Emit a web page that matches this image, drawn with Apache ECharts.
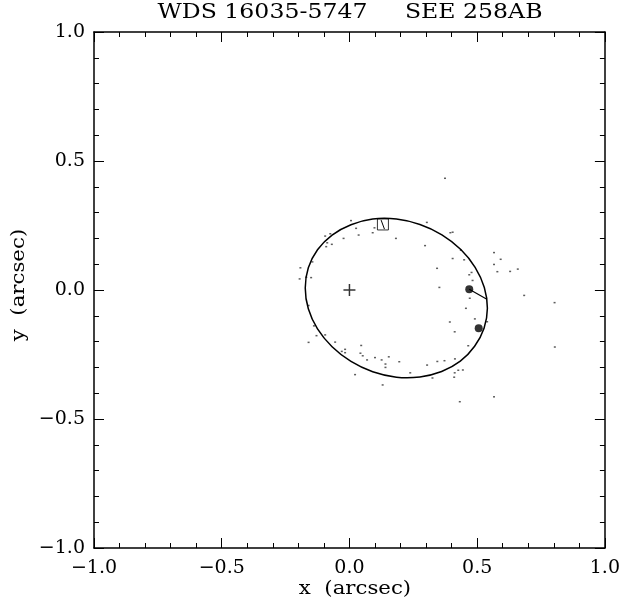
<!DOCTYPE html>
<html>
<head>
<meta charset="utf-8">
<script src="https://cdn.jsdelivr.net/npm/echarts@6/dist/echarts.min.js"></script>
<style>
html,body{margin:0;padding:0;background:#fff;}
#chart{width:623px;height:605px;}
</style>
</head>
<body>
<div id="chart"></div>
<script>
// ---- data ----
const titleText = 'WDS 16035-5747     SEE 258AB';
const xAxisName = 'x  (arcsec)';
const yAxisName = 'y  (arcsec)';
const axisTicks = [-1.0, -0.5, 0.0, 0.5, 1.0];

// individual observations (x, y) in arcsec
const obsX = [0.006,0.026,0.098,0.091,0.036,-0.095,-0.075,-0.023,-0.087,-0.069,-0.091,-0.192,-0.145,-0.195,-0.169,-0.150,
  0.182,0.296,0.303,0.343,0.374,0.395,0.404,0.436,0.404,0.449,0.566,0.592,0.566,0.579,0.629,0.659,0.478,0.469,0.482,0.352,
  0.471,0.684,0.803,0.804,0.566,0.456,0.491,0.539,0.393,0.412,0.465,0.413,0.372,0.344,0.304,0.426,0.444,0.412,0.410,0.325,
  0.432,0.195,0.238,-0.160,-0.160,-0.139,-0.129,-0.095,-0.056,-0.030,-0.017,-0.017,0.046,0.043,0.052,0.069,0.100,0.126,
  0.141,0.141,0.154,0.022,0.130];
const obsY = [0.269,0.239,0.241,0.222,0.213,0.209,0.218,0.200,0.183,0.177,0.168,0.086,0.109,0.043,0.049,0.048,
  0.200,0.172,0.262,0.084,0.433,0.222,0.224,0.154,0.122,0.117,0.145,0.119,0.099,0.071,0.072,0.081,0.068,0.059,0.037,0.010,
  -0.032,-0.021,-0.049,-0.221,-0.414,-0.071,-0.112,-0.123,-0.124,-0.162,-0.216,-0.267,-0.274,-0.277,-0.291,-0.311,-0.310,-0.321,-0.338,-0.341,
  -0.433,-0.278,-0.321,-0.203,-0.060,-0.139,-0.177,-0.174,-0.202,-0.238,-0.230,-0.243,-0.215,-0.245,-0.255,-0.271,-0.262,-0.271,
  -0.287,-0.300,-0.259,-0.328,-0.368];

// apparent orbit, points (closed curve, clockwise)
const orbitX = [0.540,0.527,0.490,0.434,0.361,0.276,0.184,0.091,0.006,-0.068,-0.125,-0.161,-0.173,-0.161,-0.125,-0.068,
  0.006,0.091,0.184,0.276,0.362,0.436,0.492,0.528];
const orbitY = [-0.071,-0.148,-0.218,-0.276,-0.316,-0.337,-0.338,-0.317,-0.277,-0.220,-0.151,-0.073,0.008,0.086,0.156,0.213,
  0.253,0.275,0.275,0.254,0.214,0.157,0.088,0.010];

// primary star, current positions, periastron
const primary = [0.0, 0.0];
const bigDotsX = [0.469, 0.506];
const bigDotsY = [0.003, -0.148];
const connectorX = [0.469, 0.538];
const connectorY = [0.003, -0.036];
const periastron = [0.131, 0.254];
const periLineX = [0.124, 0.137];
const periLineY = [0.271, 0.236];

// ---- chart ----
const FONT = 'DejaVu Serif';
const zip = (a, b) => a.map((v, i) => [v, b[i]]);
const fmt = v => (v < 0 ? '\u2212' : '') + Math.abs(v).toFixed(1);

function axis(pos, showLabel) {
  return {
    type: 'value', position: pos, min: axisTicks[0], max: axisTicks[axisTicks.length - 1],
    interval: axisTicks[1] - axisTicks[0],
    axisLine: { show: true, onZero: false, lineStyle: { color: '#000', width: 1.5 } },
    axisTick: { show: true, inside: true, length: 10, lineStyle: { color: '#000', width: 1 } },
    minorTick: { show: true, splitNumber: 5, length: 5, lineStyle: { color: '#000', width: 1 } },
    splitLine: { show: false },
    axisLabel: { show: showLabel, formatter: fmt, color: '#000', fontFamily: FONT, fontSize: 19, margin: 11 }
  };
}

// closed Catmull-Rom curve through the orbit points (pixel space)
function orbitPath(api) {
  const p = orbitX.map((x, i) => api.coord([x, orbitY[i]]));
  const n = p.length;
  let d = 'M' + p[0][0] + ',' + p[0][1];
  for (let i = 0; i < n; i++) {
    const p0 = p[(i - 1 + n) % n], p1 = p[i], p2 = p[(i + 1) % n], p3 = p[(i + 2) % n];
    const c1 = [p1[0] + (p2[0] - p0[0]) / 6, p1[1] + (p2[1] - p0[1]) / 6];
    const c2 = [p2[0] - (p3[0] - p1[0]) / 6, p2[1] - (p3[1] - p1[1]) / 6];
    d += 'C' + c1[0] + ',' + c1[1] + ' ' + c2[0] + ',' + c2[1] + ' ' + p2[0] + ',' + p2[1];
  }
  return d + 'Z';
}

const chart = echarts.init(document.getElementById('chart'), null, { renderer: 'canvas' });
const xa = [axis('bottom', true), axis('top', false)];
const ya = [axis('left', true), axis('right', false)];
ya[0].axisLabel.margin = 9;

chart.setOption({
  animation: false,
  backgroundColor: '#fff',
  grid: { left: 94, right: 17, top: 32, bottom: 57 },
  xAxis: xa,
  yAxis: ya,
  graphic: [
    { type: 'text', x: 350, y: 3, scaleX: 1.18,
      style: { text: titleText, fill: '#000', font: '20px "DejaVu Serif"', textAlign: 'center' } },
    { type: 'text', x: 355, y: 580, scaleX: 1.12,
      style: { text: xAxisName, fill: '#000', font: '19px "DejaVu Serif"', textAlign: 'center' } },
    { type: 'text', x: 10, y: 285, rotation: Math.PI / 2, scaleX: 1.12,
      style: { text: yAxisName, fill: '#000', font: '19px "DejaVu Serif"', textAlign: 'center' } }
  ],
  series: [
    { type: 'custom', data: [0], coordinateSystem: 'cartesian2d', z: 3,
      renderItem: (params, api) => ({
        type: 'path', shape: { pathData: orbitPath(api) },
        style: { fill: 'none', stroke: '#000', lineWidth: 1.5 }
      }) },
    { type: 'scatter', data: zip(obsX, obsY), symbol: 'rect', symbolSize: [2, 1.5],
      itemStyle: { color: '#333' }, z: 2 },
    { type: 'scatter', data: [primary], symbol: 'path://M0,6 L12,6 M6,0 L6,12', symbolSize: 12,
      itemStyle: { color: 'none', borderColor: '#000', borderWidth: 1.5 }, z: 4 },
    { type: 'line', data: zip(connectorX, connectorY), showSymbol: false, symbol: 'none',
      lineStyle: { color: '#000', width: 1.2 }, z: 4 },
    { type: 'scatter', data: zip(bigDotsX, bigDotsY), symbol: 'circle', symbolSize: 8,
      itemStyle: { color: '#000' }, z: 5 },
    { type: 'scatter', data: [periastron], symbol: 'rect', symbolSize: 11,
      itemStyle: { color: 'rgba(0,0,0,0)', borderColor: '#000', borderWidth: 1 }, z: 5 },
    { type: 'line', data: zip(periLineX, periLineY), showSymbol: false, symbol: 'none',
      lineStyle: { color: '#000', width: 1 }, z: 5 }
  ]
});
</script>
</body>
</html>
